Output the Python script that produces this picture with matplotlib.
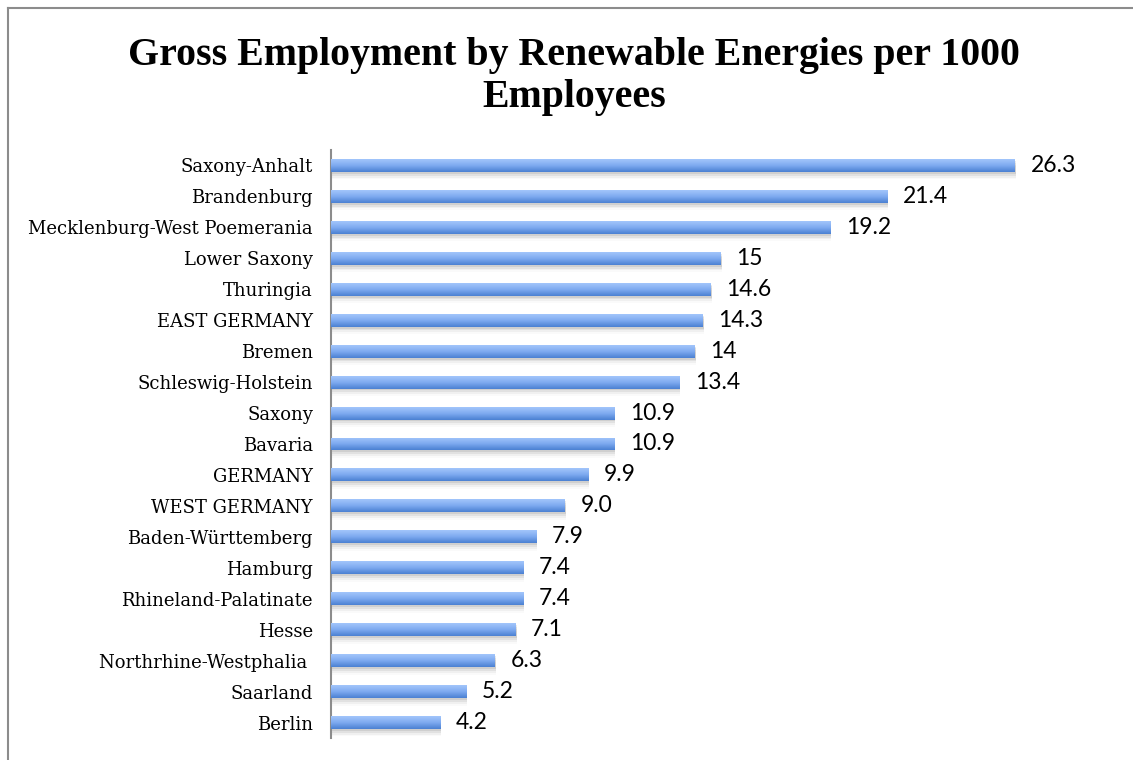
import numpy as np
import matplotlib
matplotlib.use("Agg")
import matplotlib.pyplot as plt
from matplotlib.lines import Line2D
from matplotlib.colors import LinearSegmentedColormap

regions = ["Saxony-Anhalt", "Brandenburg", "Mecklenburg-West Poemerania",
           "Lower Saxony", "Thuringia", "EAST GERMANY", "Bremen",
           "Schleswig-Holstein", "Saxony", "Bavaria", "GERMANY",
           "WEST GERMANY", "Baden-Württemberg", "Hamburg",
           "Rhineland-Palatinate", "Hesse", "Northrhine-Westphalia ",
           "Saarland", "Berlin"]
values = [26.3, 21.4, 19.2, 15, 14.6, 14.3, 14, 13.4, 10.9, 10.9, 9.9,
          9.0, 7.9, 7.4, 7.4, 7.1, 6.3, 5.2, 4.2]
value_labels = ["26.3", "21.4", "19.2", "15", "14.6", "14.3", "14", "13.4",
                "10.9", "10.9", "9.9", "9.0", "7.9", "7.4", "7.4", "7.1",
                "6.3", "5.2", "4.2"]

fig = plt.figure(figsize=(11.33, 7.6), dpi=100)
ax = fig.add_axes([331 / 1133, 22 / 760, 780 / 1133, 588 / 760])

# outer chart border (left and top only are visible)
fig.add_artist(Line2D([8 / 1133, 8 / 1133], [0, 1 - 8 / 760],
                      transform=fig.transFigure, color="#8c8c8c", lw=1.5))
fig.add_artist(Line2D([8 / 1133, 1], [1 - 8 / 760, 1 - 8 / 760],
                      transform=fig.transFigure, color="#8c8c8c", lw=1.5))

y = np.arange(len(regions))
h = 0.42
grad = LinearSegmentedColormap.from_list("g", ["#a3c6fb", "#7eaaf0", "#4a80d2"])
img = np.linspace(0, 1, 64).reshape(-1, 1)

# soft shadow under each bar
for k, a in [(0.06, 0.08), (0.12, 0.06), (0.18, 0.04), (0.24, 0.02)]:
    ax.barh(y + k, values, height=h, left=0.04, color="black", alpha=a,
            lw=0, zorder=1)

bars = ax.barh(y, values, height=h, color="none", lw=0, zorder=2)
for b in bars:
    x0, y0 = b.get_x(), b.get_y()
    im = ax.imshow(img, cmap=grad, aspect="auto", origin="upper",
                   extent=[x0, x0 + b.get_width(), y0 + b.get_height(), y0],
                   zorder=3, interpolation="bicubic")
    im.set_clip_path(b)

for yi, v, lab in zip(y, values, value_labels):
    ax.text(v + 0.6, yi, lab, va="center", ha="left", fontsize=16.5,
            family="Lato", color="black")

ax.set_xlim(0, 30)
ax.set_ylim(len(regions) - 0.5, -0.5)
ax.set_yticks(y)
ax.set_yticklabels(regions, family="DejaVu Serif", fontsize=13)
ax.tick_params(axis="y", length=0, pad=13)
ax.set_xticks([])
for s in ["top", "right", "bottom"]:
    ax.spines[s].set_visible(False)
ax.spines["left"].set_color("#8c8c8c")
ax.spines["left"].set_linewidth(1.5)

fig.text(574 / 1133, 1 - 55 / 760, "Gross Employment by Renewable Energies per 1000",
         ha="center", va="center", family="Liberation Serif",
         fontweight="bold", fontsize=28.7)
fig.text(574 / 1133, 1 - 97 / 760, "Employees",
         ha="center", va="center", family="Liberation Serif",
         fontweight="bold", fontsize=28.7)

fig.savefig("out.png", dpi=100)
